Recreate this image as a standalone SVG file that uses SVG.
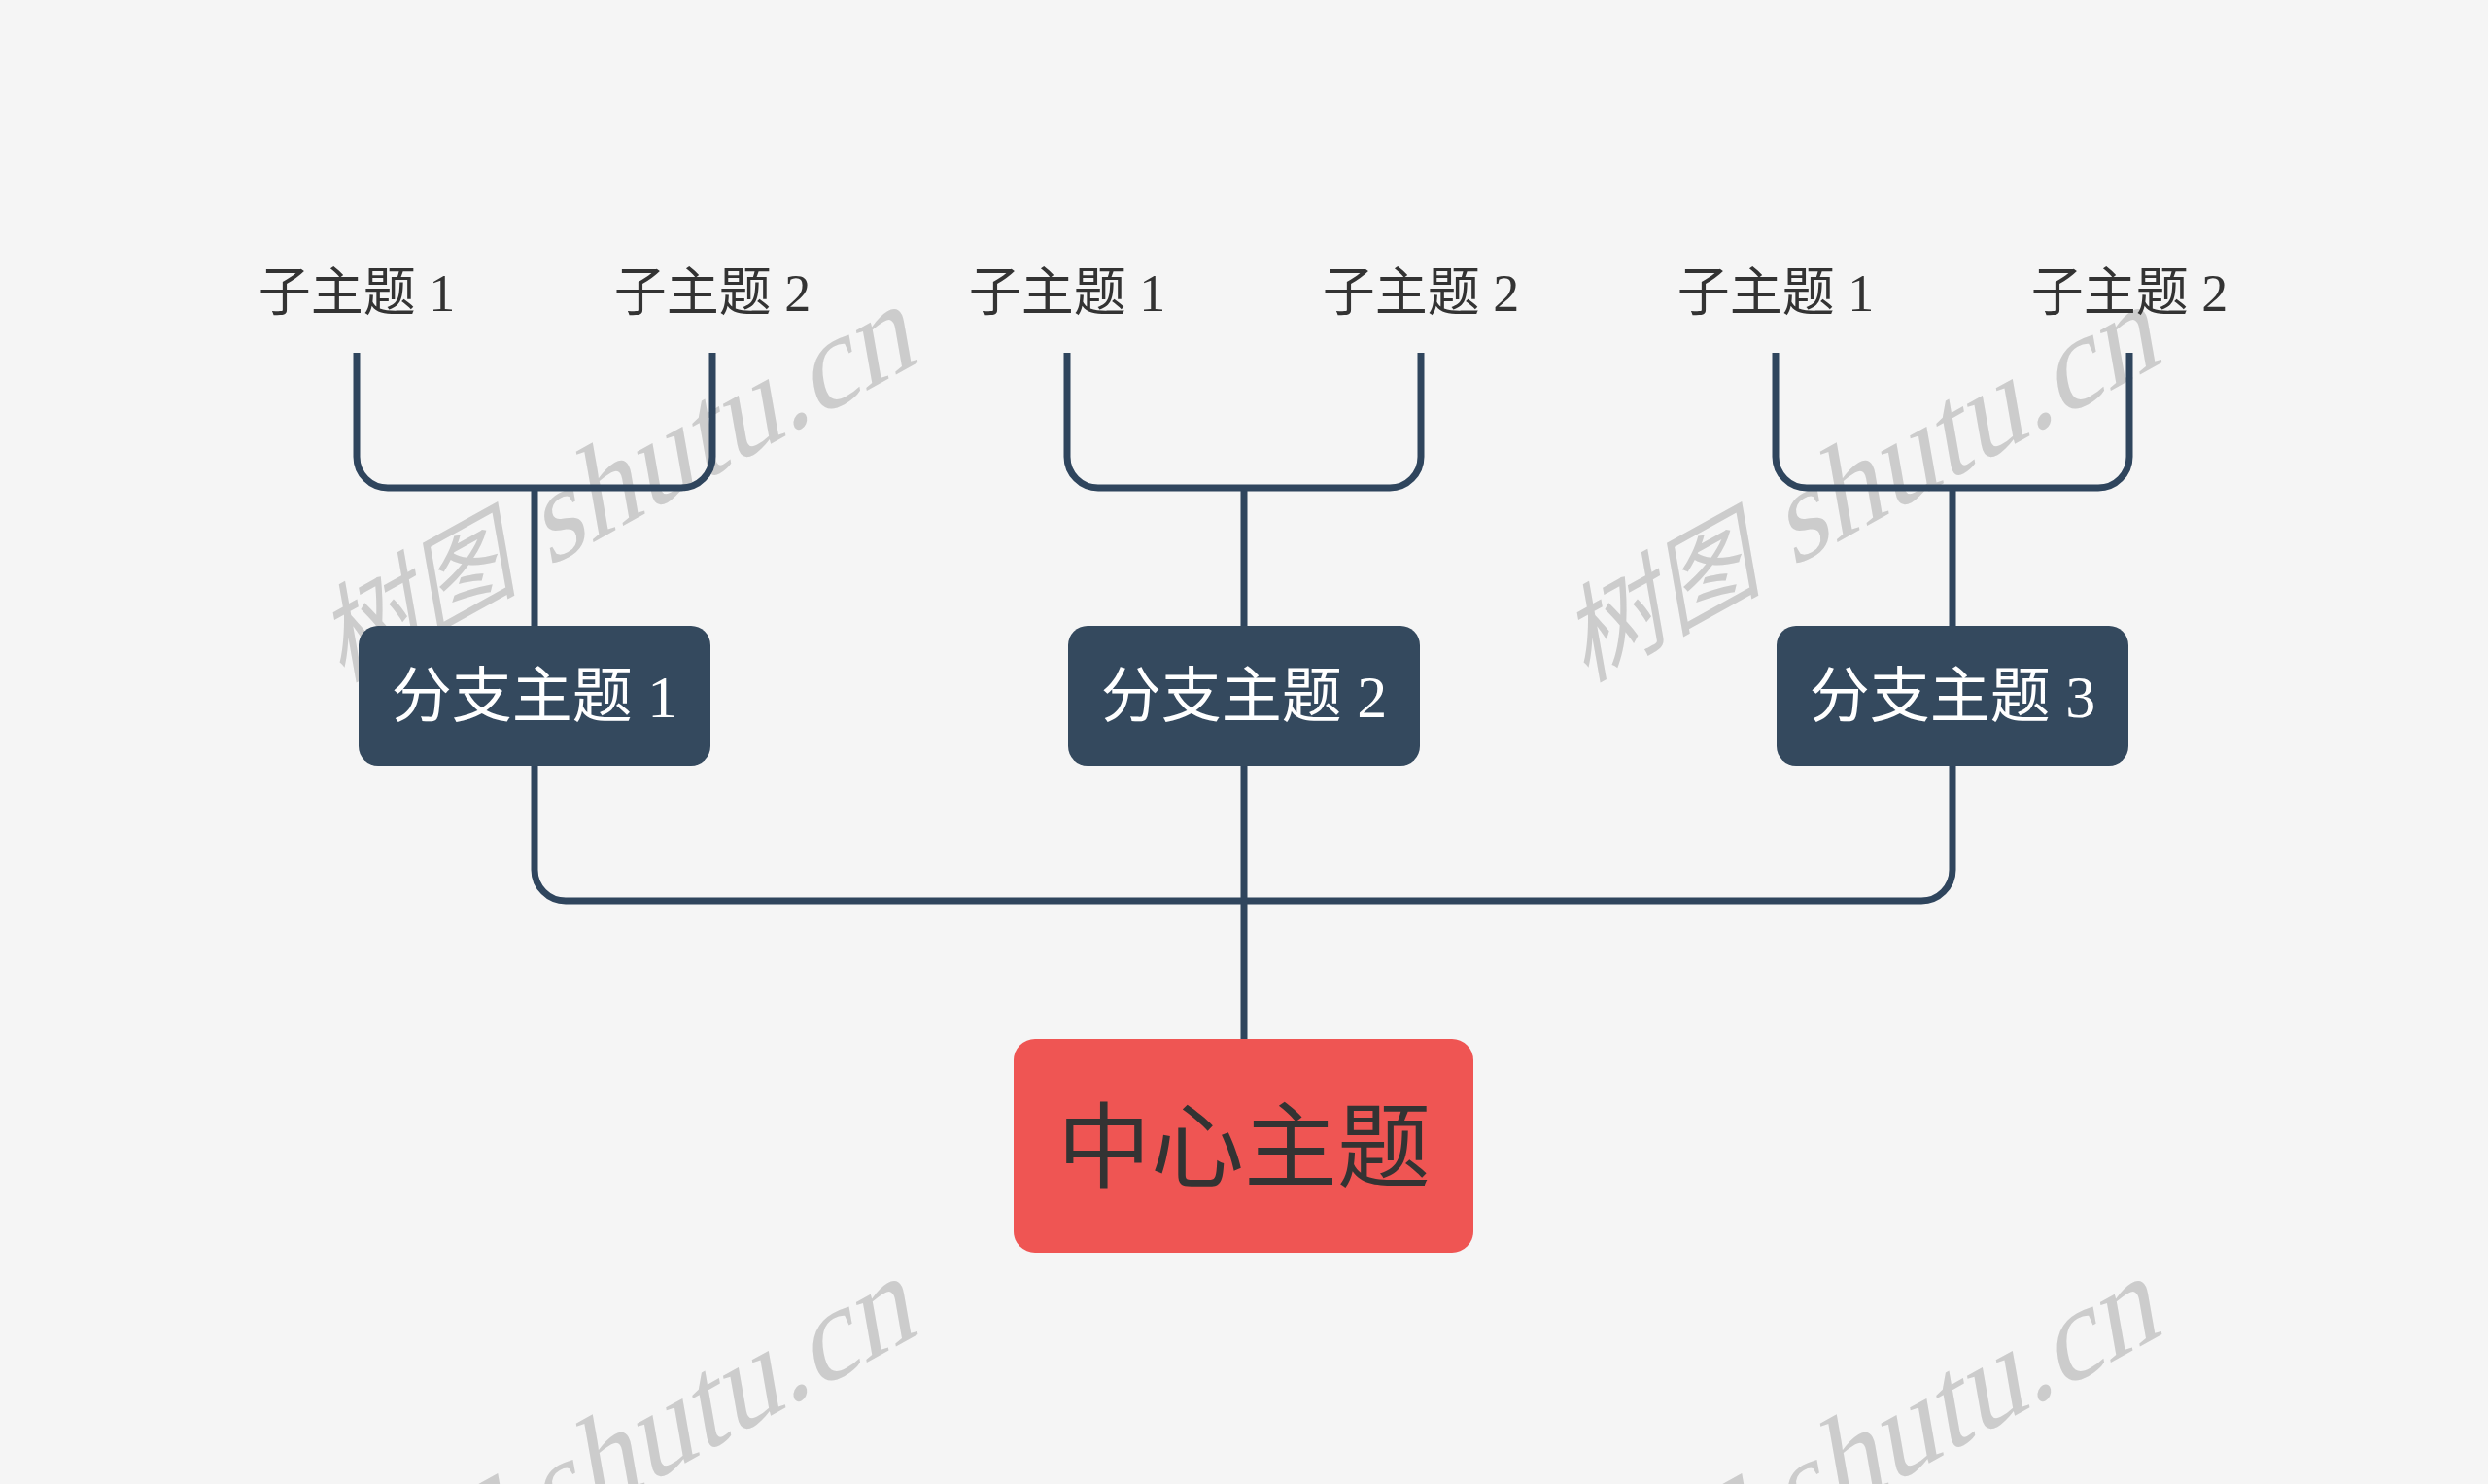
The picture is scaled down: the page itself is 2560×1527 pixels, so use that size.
<svg xmlns="http://www.w3.org/2000/svg" width="2560" height="1527" viewBox="0 0 2560 1527">
<style>
.bg{fill:#f5f5f5}
.wm{font-family:"Liberation Serif","Noto Sans CJK SC",serif;font-size:130px;fill:#cccccc;text-anchor:end}
.wm .cjk{font-size:106px}
.conn{fill:none;stroke:#2f455d;stroke-width:7}
.branch rect{fill:#34495e}
.branch text{font-family:"Liberation Serif","Noto Sans CJK SC",serif;font-size:62px;fill:#ffffff;text-anchor:middle}
.sub text{font-family:"Liberation Serif","Noto Sans CJK SC",serif;font-size:54px;fill:#333333;text-anchor:middle}
.center rect{fill:#ef5553}
.center text{font-family:"Noto Sans CJK SC",sans-serif;font-size:96px;fill:#333333;text-anchor:middle}
</style>
<rect class="bg" x="0" y="0" width="2560" height="1527"/>
<g id="watermarks">
<text class="wm" transform="translate(946,372) rotate(-29) skewX(-19)"><tspan class="cjk">树图</tspan> shutu.cn</text>
<text class="wm" transform="translate(2226,372) rotate(-29) skewX(-19)"><tspan class="cjk">树图</tspan> shutu.cn</text>
<text class="wm" transform="translate(946,1372) rotate(-29) skewX(-19)"><tspan class="cjk">树图</tspan> shutu.cn</text>
<text class="wm" transform="translate(2226,1372) rotate(-29) skewX(-19)"><tspan class="cjk">树图</tspan> shutu.cn</text>
</g>
<g id="connectors">
<path class="conn" d="M367,363 V470 A32,32 0 0 0 399,502 H701 A32,32 0 0 0 733,470 V363 M550,502 V644"/>
<path class="conn" d="M1098,363 V470 A32,32 0 0 0 1130,502 H1430 A32,32 0 0 0 1462,470 V363 M1280,502 V644"/>
<path class="conn" d="M1827,363 V470 A32,32 0 0 0 1859,502 H2159 A32,32 0 0 0 2191,470 V363 M2009,502 V644"/>
<path class="conn" d="M550,788 V895 A32,32 0 0 0 582,927 H1977 A32,32 0 0 0 2009,895 V788 M1280,788 V1069"/>
</g>
<g id="center" class="center">
<rect x="1043" y="1069" width="473" height="220" rx="22"/>
<text x="1280" y="1214">中心主题</text>
</g>
<g id="branch1" class="branch">
<rect x="369" y="644" width="362" height="144" rx="20"/>
<text x="550" y="738">分支主题 1</text>
</g>
<g id="branch2" class="branch">
<rect x="1099" y="644" width="362" height="144" rx="20"/>
<text x="1280" y="738">分支主题 2</text>
</g>
<g id="branch3" class="branch">
<rect x="1828" y="644" width="362" height="144" rx="20"/>
<text x="2009" y="738">分支主题 3</text>
</g>
<g id="sub1-1" class="sub"><text x="367" y="320">子主题 1</text></g>
<g id="sub1-2" class="sub"><text x="733" y="320">子主题 2</text></g>
<g id="sub2-1" class="sub"><text x="1098" y="320">子主题 1</text></g>
<g id="sub2-2" class="sub"><text x="1462" y="320">子主题 2</text></g>
<g id="sub3-1" class="sub"><text x="1827" y="320">子主题 1</text></g>
<g id="sub3-2" class="sub"><text x="2191" y="320">子主题 2</text></g>
</svg>
